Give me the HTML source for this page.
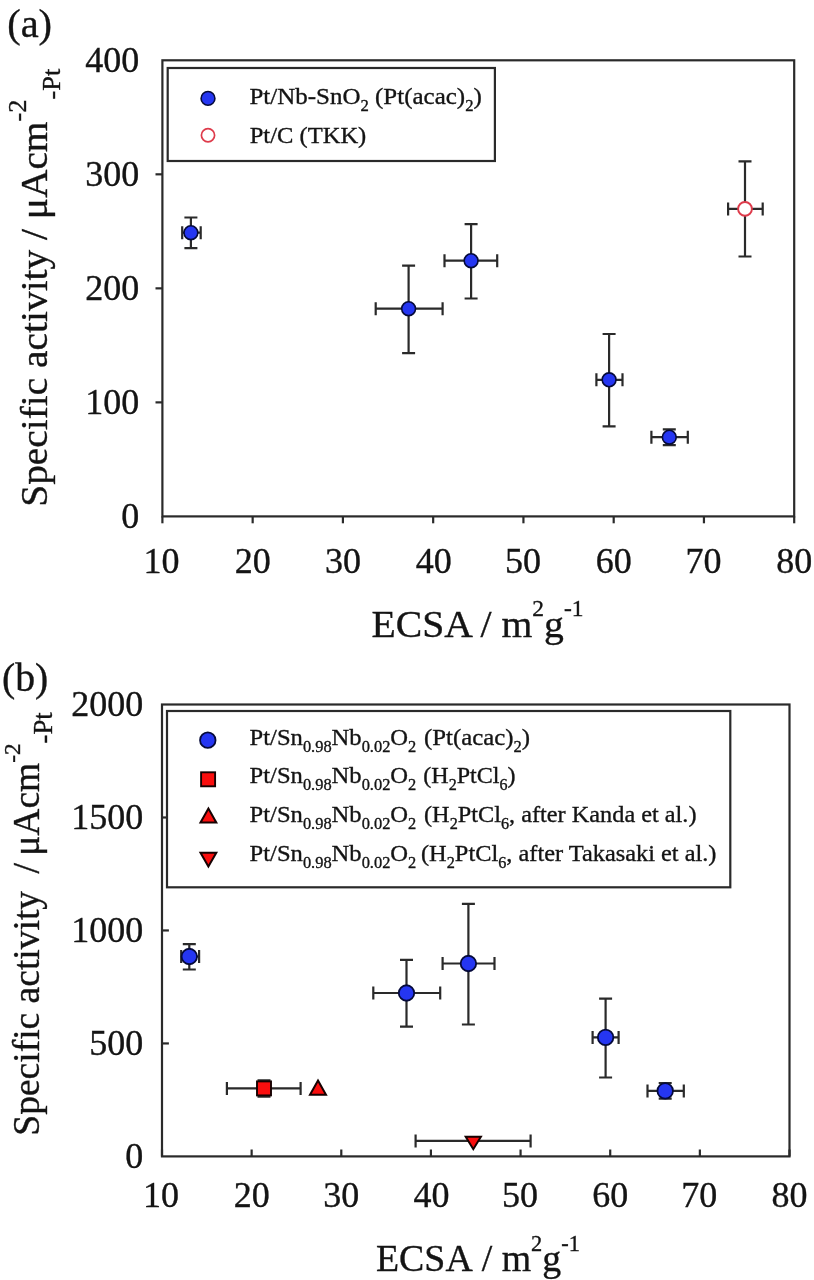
<!DOCTYPE html>
<html><head><meta charset="utf-8"><title>Figure</title>
<style>html,body{margin:0;padding:0;background:#fff}svg{display:block}</style></head>
<body><svg width="814" height="1280" viewBox="0 0 814 1280">
<rect width="814" height="1280" fill="#fff"/>
<g font-family="'Liberation Serif','DejaVu Serif',serif" fill="#141414" style="filter:blur(0.45px)"><style>text{stroke:#141414;stroke-width:0.35px}</style>
<rect x="162.4" y="60.3" width="631.80" height="456.10" fill="none" stroke="#2a2a2a" stroke-width="2.2"/>
<line x1="162.40" y1="516.40" x2="162.40" y2="523.30" stroke="#2a2a2a" stroke-width="2.2"/>
<text x="143.40" y="572.70" font-size="36">10</text>
<line x1="252.66" y1="516.40" x2="252.66" y2="523.30" stroke="#2a2a2a" stroke-width="2.2"/>
<text x="234.66" y="572.70" font-size="36">20</text>
<line x1="342.91" y1="516.40" x2="342.91" y2="523.30" stroke="#2a2a2a" stroke-width="2.2"/>
<text x="324.91" y="572.70" font-size="36">30</text>
<line x1="433.17" y1="516.40" x2="433.17" y2="523.30" stroke="#2a2a2a" stroke-width="2.2"/>
<text x="415.67" y="572.70" font-size="36">40</text>
<line x1="523.43" y1="516.40" x2="523.43" y2="523.30" stroke="#2a2a2a" stroke-width="2.2"/>
<text x="504.93" y="572.70" font-size="36">50</text>
<line x1="613.69" y1="516.40" x2="613.69" y2="523.30" stroke="#2a2a2a" stroke-width="2.2"/>
<text x="595.69" y="572.70" font-size="36">60</text>
<line x1="703.94" y1="516.40" x2="703.94" y2="523.30" stroke="#2a2a2a" stroke-width="2.2"/>
<text x="685.44" y="572.70" font-size="36">70</text>
<line x1="794.20" y1="516.40" x2="794.20" y2="523.30" stroke="#2a2a2a" stroke-width="2.2"/>
<text x="776.20" y="572.70" font-size="36">80</text>
<text x="121.20" y="528.00" font-size="36">0</text>
<line x1="155.50" y1="402.38" x2="162.40" y2="402.38" stroke="#2a2a2a" stroke-width="2.2"/>
<text x="85.20" y="413.98" font-size="36">100</text>
<line x1="155.50" y1="288.35" x2="162.40" y2="288.35" stroke="#2a2a2a" stroke-width="2.2"/>
<text x="85.20" y="299.95" font-size="36">200</text>
<line x1="155.50" y1="174.32" x2="162.40" y2="174.32" stroke="#2a2a2a" stroke-width="2.2"/>
<text x="85.20" y="185.92" font-size="36">300</text>
<text x="85.20" y="71.90" font-size="36">400</text>
<text transform="translate(7.19,37.00) scale(1.0119,1)" font-size="40">(a)</text>
<rect x="167.7" y="68.0" width="327.2" height="93.0" fill="#fff" stroke="#2a2a2a" stroke-width="2.2"/>
<circle cx="208" cy="98.4" r="6.9" fill="#2536f2" stroke="#050a3a" stroke-width="1.6"/>
<circle cx="208" cy="135.2" r="6.6" fill="#fff" stroke="#de3b4b" stroke-width="1.7"/>
<text transform="translate(249.46,104.20) scale(1.0410,1)" font-size="24">Pt/Nb-SnO<tspan font-size="16" dy="7.1">2</tspan><tspan dy="-7.1"> (Pt(acac)</tspan><tspan font-size="16" dy="7.1">2</tspan><tspan dy="-7.1">)</tspan></text>
<text transform="translate(249.68,142.80) scale(1.0239,1)" font-size="24">Pt/C (TKK)</text>
<path d="M182.2 232.7H200.7M182.2 226.2V239.2M200.7 226.2V239.2M190.9 217.5V248.1M184.4 217.5H197.4M184.4 248.1H197.4" stroke="#2a2a2a" stroke-width="2.2" fill="none"/>
<circle cx="190.9" cy="232.7" r="6.9" fill="#2536f2" stroke="#050a3a" stroke-width="1.6"/>
<path d="M375.7 308.7H442.6M375.7 302.2V315.2M442.6 302.2V315.2M408.6 265.6V353.1M402.1 265.6H415.1M402.1 353.1H415.1" stroke="#2a2a2a" stroke-width="2.2" fill="none"/>
<circle cx="408.6" cy="308.7" r="6.9" fill="#2536f2" stroke="#050a3a" stroke-width="1.6"/>
<path d="M444.5 260.7H497.2M444.5 254.2V267.2M497.2 254.2V267.2M471.1 224.2V298.5M464.6 224.2H477.6M464.6 298.5H477.6" stroke="#2a2a2a" stroke-width="2.2" fill="none"/>
<circle cx="471.1" cy="260.7" r="6.9" fill="#2536f2" stroke="#050a3a" stroke-width="1.6"/>
<path d="M596.4 379.8H622.5M596.4 373.3V386.3M622.5 373.3V386.3M609.1 334.0V426.4M602.6 334.0H615.6M602.6 426.4H615.6" stroke="#2a2a2a" stroke-width="2.2" fill="none"/>
<circle cx="609.1" cy="379.8" r="6.9" fill="#2536f2" stroke="#050a3a" stroke-width="1.6"/>
<path d="M651.4 437.2H687.8M651.4 430.7V443.7M687.8 430.7V443.7M669.3 429.3V445.2M662.8 429.3H675.8M662.8 445.2H675.8" stroke="#2a2a2a" stroke-width="2.2" fill="none"/>
<circle cx="669.3" cy="437.2" r="6.9" fill="#2536f2" stroke="#050a3a" stroke-width="1.6"/>
<path d="M728.1 208.9H762.7M728.1 202.4V215.4M762.7 202.4V215.4M745.0 161.4V256.5M738.5 161.4H751.5M738.5 256.5H751.5" stroke="#2a2a2a" stroke-width="2.2" fill="none"/>
<circle cx="745.0" cy="208.9" r="6.9" fill="#fff" stroke="#de3b4b" stroke-width="1.9"/>
<text transform="translate(371.46,637.10) scale(1.0438,1)" font-size="38">ECSA <tspan dx="0">/</tspan> m<tspan font-size="22.5" dy="-20.7">2</tspan><tspan dy="20.7">g</tspan><tspan font-size="22.5" dy="-20.7">-1</tspan></text>
<text transform="translate(47.40,506.77) rotate(-90) scale(1.0368,1)" font-size="38">Specific activity <tspan dx="0">/</tspan> <tspan dx="0">μAcm</tspan><tspan font-size="25.5" dy="-21.6">-2</tspan><tspan font-size="25.5" dy="34.400000000000006">-Pt</tspan></text>
<rect x="162.0" y="704.5" width="627.50" height="451.90" fill="none" stroke="#2a2a2a" stroke-width="2.2"/>
<line x1="162.00" y1="1156.40" x2="162.00" y2="1149.50" stroke="#2a2a2a" stroke-width="2.2"/>
<text x="143.00" y="1207.30" font-size="36">10</text>
<line x1="251.64" y1="1156.40" x2="251.64" y2="1149.50" stroke="#2a2a2a" stroke-width="2.2"/>
<text x="233.64" y="1207.30" font-size="36">20</text>
<line x1="341.29" y1="1156.40" x2="341.29" y2="1149.50" stroke="#2a2a2a" stroke-width="2.2"/>
<text x="323.29" y="1207.30" font-size="36">30</text>
<line x1="430.93" y1="1156.40" x2="430.93" y2="1149.50" stroke="#2a2a2a" stroke-width="2.2"/>
<text x="413.43" y="1207.30" font-size="36">40</text>
<line x1="520.57" y1="1156.40" x2="520.57" y2="1149.50" stroke="#2a2a2a" stroke-width="2.2"/>
<text x="502.07" y="1207.30" font-size="36">50</text>
<line x1="610.21" y1="1156.40" x2="610.21" y2="1149.50" stroke="#2a2a2a" stroke-width="2.2"/>
<text x="592.21" y="1207.30" font-size="36">60</text>
<line x1="699.86" y1="1156.40" x2="699.86" y2="1149.50" stroke="#2a2a2a" stroke-width="2.2"/>
<text x="681.36" y="1207.30" font-size="36">70</text>
<line x1="789.50" y1="1156.40" x2="789.50" y2="1149.50" stroke="#2a2a2a" stroke-width="2.2"/>
<text x="771.50" y="1207.30" font-size="36">80</text>
<text x="125.20" y="1168.00" font-size="36">0</text>
<line x1="162.00" y1="1043.43" x2="168.90" y2="1043.43" stroke="#2a2a2a" stroke-width="2.2"/>
<text x="89.20" y="1055.03" font-size="36">500</text>
<line x1="162.00" y1="930.45" x2="168.90" y2="930.45" stroke="#2a2a2a" stroke-width="2.2"/>
<text x="71.20" y="942.05" font-size="36">1000</text>
<line x1="162.00" y1="817.48" x2="168.90" y2="817.48" stroke="#2a2a2a" stroke-width="2.2"/>
<text x="71.20" y="829.08" font-size="36">1500</text>
<text x="71.20" y="716.10" font-size="36">2000</text>
<text transform="translate(2.01,690.60) scale(0.9933,1)" font-size="40">(b)</text>
<rect x="167.0" y="711.0" width="563.3" height="176.3" fill="#fff" stroke="#2a2a2a" stroke-width="2.2"/>
<circle cx="207.8" cy="740.2" r="7.75" fill="#2536f2" stroke="#050a3a" stroke-width="1.8"/>
<rect x="201.10" y="772.30" width="14.0" height="14.0" fill="#fa0e0e" stroke="#160202" stroke-width="1.9"/>
<path d="M208.4 808.6L216.3 822.6H200.5Z" fill="#fa0e0e" stroke="#160202" stroke-width="2.0" stroke-linejoin="miter"/>
<path d="M200.5 852.8H216.3L208.4 866.4Z" fill="#fa0e0e" stroke="#160202" stroke-width="2.0" stroke-linejoin="miter"/>
<text transform="translate(249.57,745.30) scale(1.0255,1)" font-size="24">Pt/Sn<tspan font-size="16" dy="7.1">0.98</tspan><tspan dy="-7.1">Nb</tspan><tspan font-size="16" dy="7.1">0.02</tspan><tspan dy="-7.1">O</tspan><tspan font-size="16" dy="7.1">2</tspan><tspan dy="-7.1"></tspan></text>
<text transform="translate(424.00,745.30) scale(1.0333,1)" font-size="24">(Pt(acac)<tspan font-size="16" dy="7.1">2</tspan><tspan dy="-7.1">)</tspan></text>
<text transform="translate(249.57,783.00) scale(1.0255,1)" font-size="24">Pt/Sn<tspan font-size="16" dy="7.1">0.98</tspan><tspan dy="-7.1">Nb</tspan><tspan font-size="16" dy="7.1">0.02</tspan><tspan dy="-7.1">O</tspan><tspan font-size="16" dy="7.1">2</tspan><tspan dy="-7.1"></tspan></text>
<text transform="translate(423.30,783.00) scale(1.0033,1)" font-size="24">(H<tspan font-size="16" dy="7.1">2</tspan><tspan dy="-7.1">PtCl</tspan><tspan font-size="16" dy="7.1">6</tspan><tspan dy="-7.1">)</tspan></text>
<text transform="translate(249.57,821.80) scale(1.0255,1)" font-size="24">Pt/Sn<tspan font-size="16" dy="7.1">0.98</tspan><tspan dy="-7.1">Nb</tspan><tspan font-size="16" dy="7.1">0.02</tspan><tspan dy="-7.1">O</tspan><tspan font-size="16" dy="7.1">2</tspan><tspan dy="-7.1"></tspan></text>
<text transform="translate(424.00,821.80) scale(1.0126,1)" font-size="24">(H<tspan font-size="16" dy="7.1">2</tspan><tspan dy="-7.1">PtCl</tspan><tspan font-size="16" dy="7.1">6</tspan><tspan dy="-7.1">, after Kanda et al.)</tspan></text>
<text transform="translate(249.57,860.50) scale(1.0255,1)" font-size="24">Pt/Sn<tspan font-size="16" dy="7.1">0.98</tspan><tspan dy="-7.1">Nb</tspan><tspan font-size="16" dy="7.1">0.02</tspan><tspan dy="-7.1">O</tspan><tspan font-size="16" dy="7.1">2</tspan><tspan dy="-7.1"></tspan></text>
<text transform="translate(421.00,860.50) scale(1.0155,1)" font-size="24">(H<tspan font-size="16" dy="7.1">2</tspan><tspan dy="-7.1">PtCl</tspan><tspan font-size="16" dy="7.1">6</tspan><tspan dy="-7.1">, after Takasaki et al.)</tspan></text>
<path d="M181.2 956.5H199.1M181.2 950.0V963.0M199.1 950.0V963.0M189.3 944.2V969.5M182.8 944.2H195.8M182.8 969.5H195.8" stroke="#2a2a2a" stroke-width="2.2" fill="none"/>
<circle cx="189.3" cy="956.5" r="7.75" fill="#2536f2" stroke="#050a3a" stroke-width="1.8"/>
<path d="M373.3 993.0H440.2M373.3 986.5V999.5M440.2 986.5V999.5M406.5 959.9V1026.7M400.0 959.9H413.0M400.0 1026.7H413.0" stroke="#2a2a2a" stroke-width="2.2" fill="none"/>
<circle cx="406.5" cy="993.0" r="7.75" fill="#2536f2" stroke="#050a3a" stroke-width="1.8"/>
<path d="M442.6 963.5H494.5M442.6 957.0V970.0M494.5 957.0V970.0M468.4 903.8V1024.5M461.9 903.8H474.9M461.9 1024.5H474.9" stroke="#2a2a2a" stroke-width="2.2" fill="none"/>
<circle cx="468.4" cy="963.5" r="7.75" fill="#2536f2" stroke="#050a3a" stroke-width="1.8"/>
<path d="M592.6 1037.4H618.6M592.6 1030.9V1043.9M618.6 1030.9V1043.9M605.6 998.7V1077.5M599.1 998.7H612.1M599.1 1077.5H612.1" stroke="#2a2a2a" stroke-width="2.2" fill="none"/>
<circle cx="605.6" cy="1037.4" r="7.75" fill="#2536f2" stroke="#050a3a" stroke-width="1.8"/>
<path d="M647.5 1090.9H683.8M647.5 1084.4V1097.4M683.8 1084.4V1097.4M665.2 1083.0V1098.7M658.7 1083.0H671.7M658.7 1098.7H671.7" stroke="#2a2a2a" stroke-width="2.2" fill="none"/>
<circle cx="665.2" cy="1090.9" r="7.75" fill="#2536f2" stroke="#050a3a" stroke-width="1.8"/>
<path d="M226.9 1088.4H300.6M226.9 1081.9V1094.9M300.6 1081.9V1094.9M264.0 1080.4V1096.6M257.5 1080.4H270.5M257.5 1096.6H270.5" stroke="#2a2a2a" stroke-width="2.2" fill="none"/>
<rect x="257.00" y="1081.40" width="14.0" height="14.0" fill="#fa0e0e" stroke="#160202" stroke-width="1.9"/>
<path d="M318.0 1080.5L326.0 1094.8H310.0Z" fill="#fa0e0e" stroke="#160202" stroke-width="2.0" stroke-linejoin="miter"/>
<path d="M415.6 1140.9H530.6M415.6 1134.4V1147.4M530.6 1134.4V1147.4" stroke="#2a2a2a" stroke-width="2.2" fill="none"/>
<path d="M465.7 1136.8H480.90000000000003L473.3 1149.2Z" fill="#fa0e0e" stroke="#160202" stroke-width="2.0" stroke-linejoin="miter"/>
<text transform="translate(376.00,1270.50) scale(0.9960,1)" font-size="38">ECSA <tspan dx="1.6">/</tspan> m<tspan font-size="22.5" dy="-19.5">2</tspan><tspan dy="19.5">g</tspan><tspan font-size="22.5" dy="-19.5">-1</tspan></text>
<text transform="translate(39.10,1135.68) rotate(-90) scale(0.9876,1)" font-size="38">Specific activity <tspan dx="8.0">/</tspan> <tspan dx="-2.0">μAcm</tspan><tspan font-size="23.5" dy="-19.2">-2</tspan><tspan font-size="27" dy="32.5">-Pt</tspan></text>
</g>
</svg></body></html>
